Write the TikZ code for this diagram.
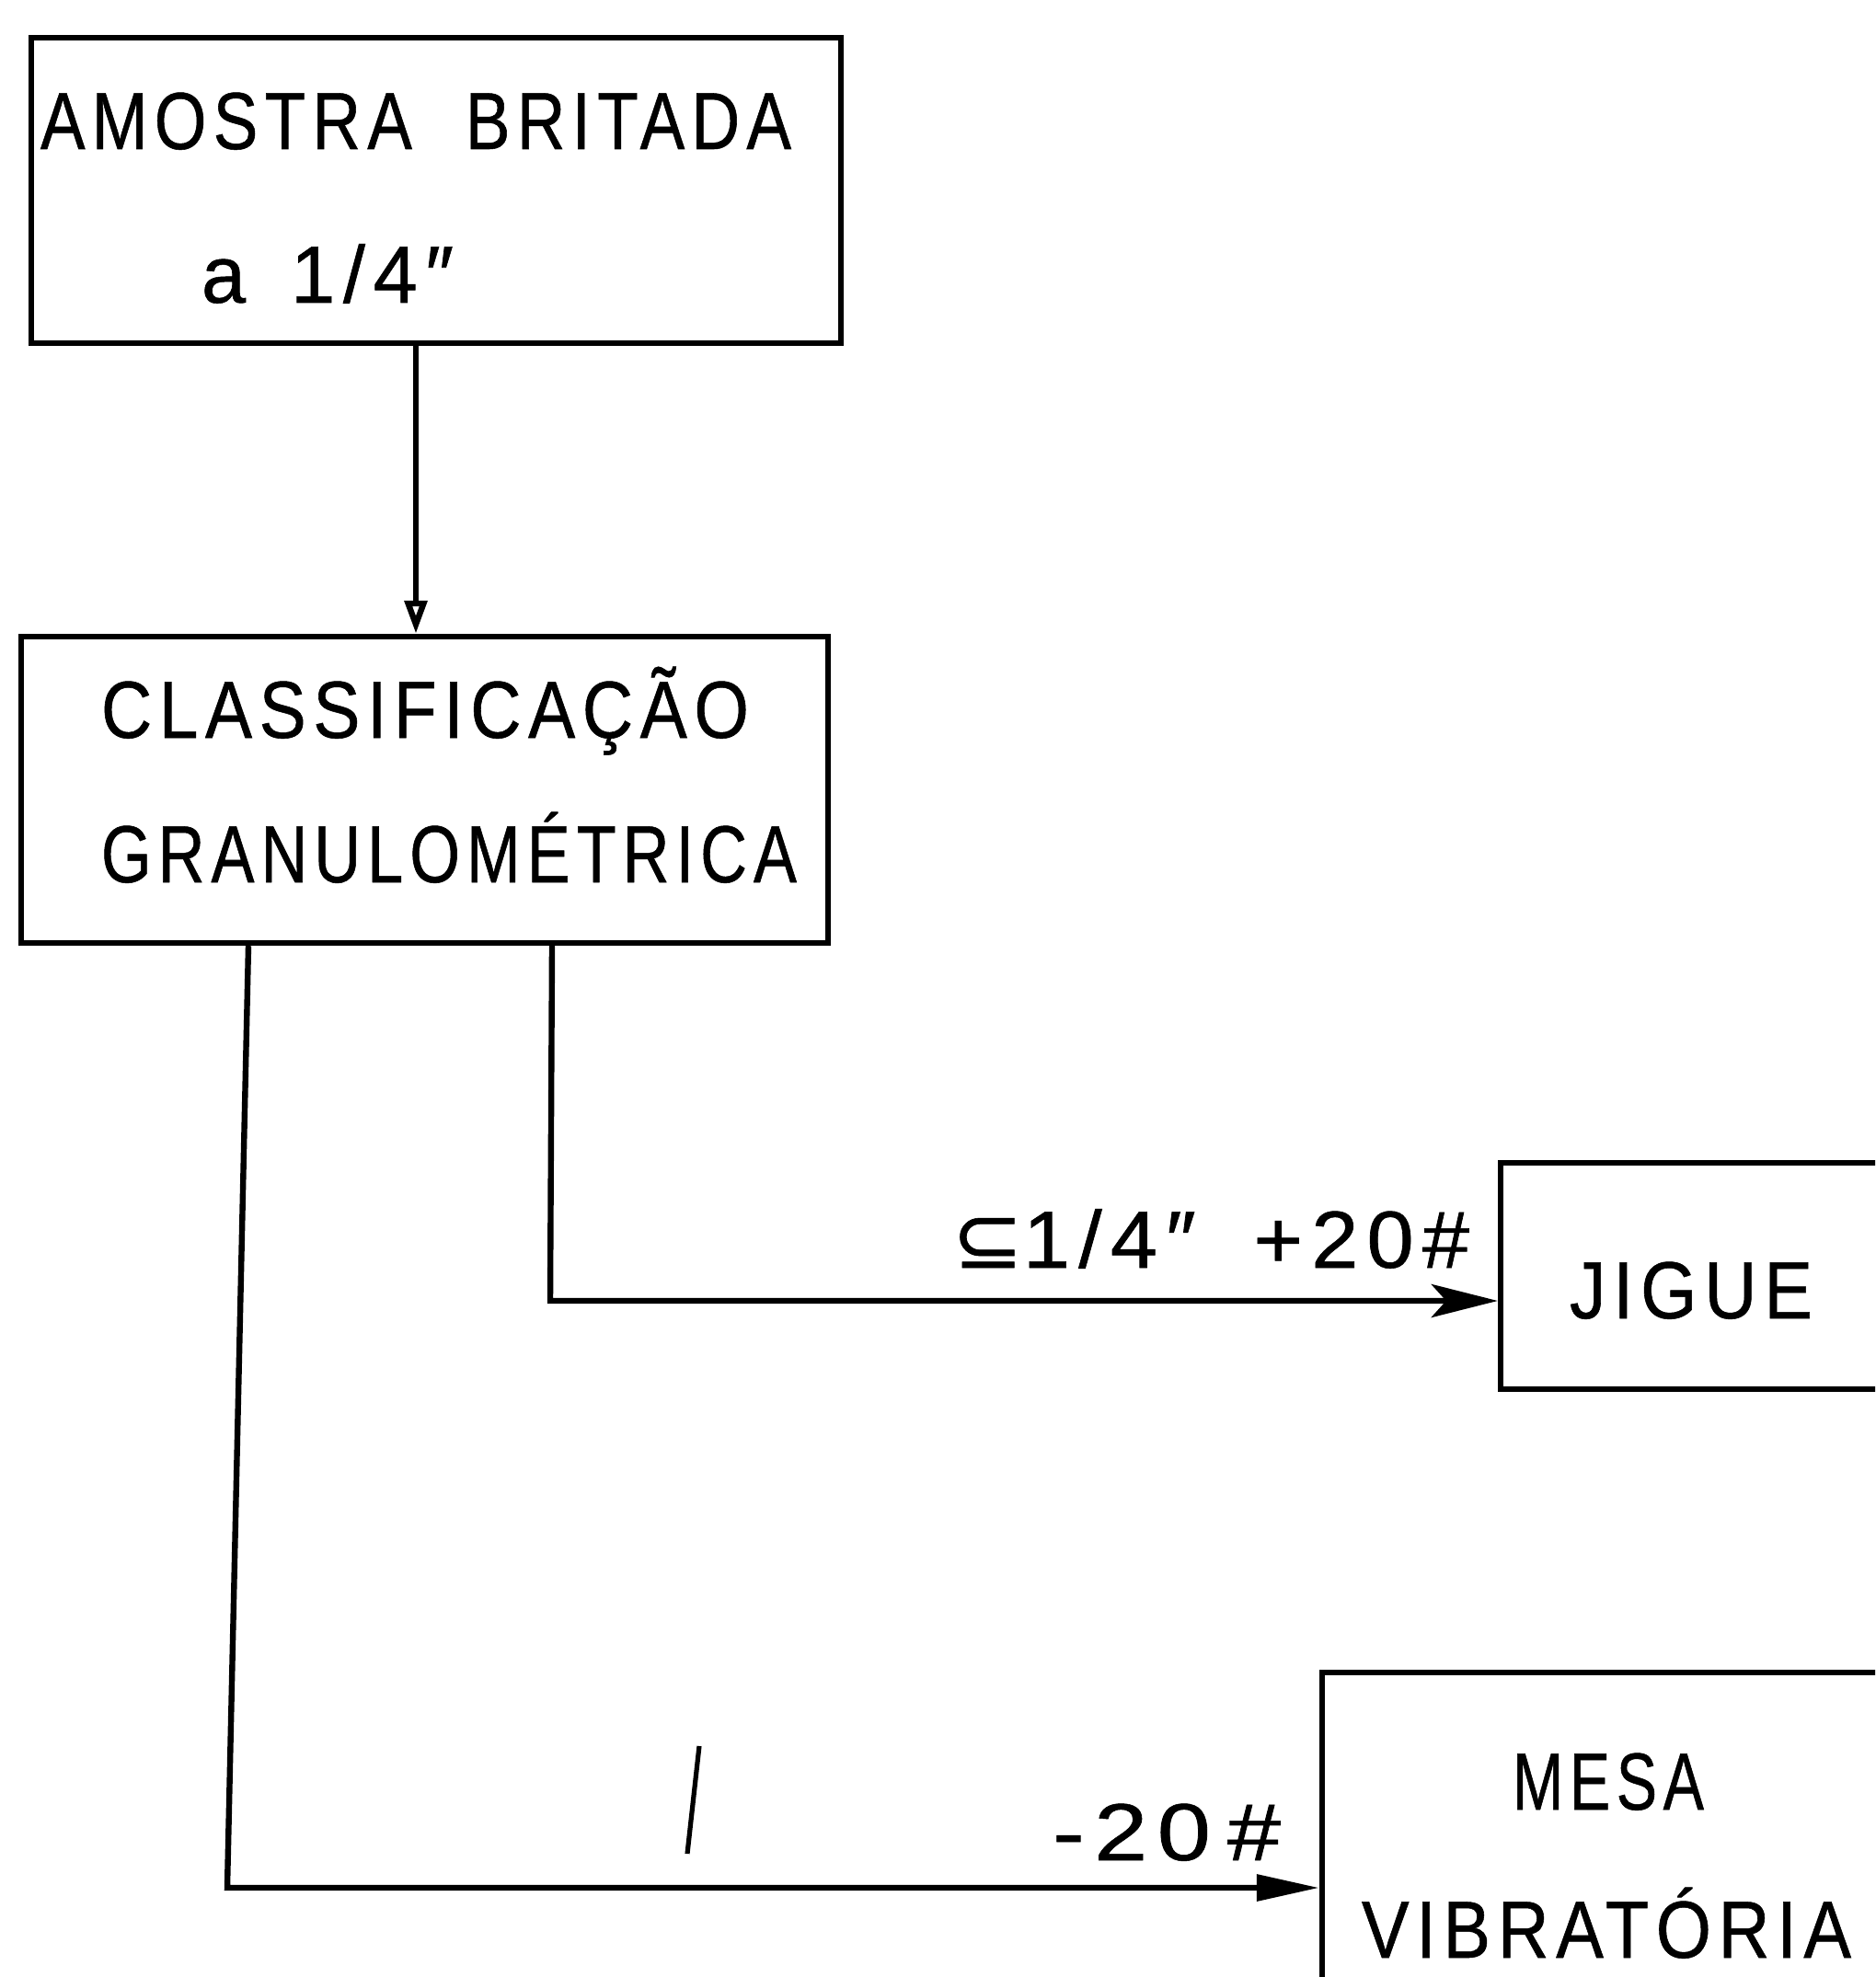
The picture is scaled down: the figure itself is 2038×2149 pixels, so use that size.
\documentclass[tikz,border=0pt]{standalone}
\usepackage{fontspec}
\setmainfont{Liberation Sans}[FakeStretch=0.8, LetterSpace=8, FakeBold=0.6]
\newfontfamily\dejavu{DejaVu Sans}[FakeStretch=0.8, FakeBold=0.6]
\usetikzlibrary{arrows.meta}
\newcommand\fw[2]{\resizebox{#1}{\height}{#2}}
\begin{document}
\begin{tikzpicture}[x=0.25pt,y=-0.25pt,
  box/.style={draw, line width=1.6pt, rectangle, inner sep=0pt},
  lab/.style={inner sep=0pt, anchor=base, font=\fontsize{22}{26}\selectfont},
  wire/.style={line width=1.6pt}]
\useasboundingbox (0,0) rectangle (2038,2149);
\clip (0,0) rectangle (2038,2149);
% boxes
\node[box, minimum width=220pt, minimum height=83pt] (box1) at (474,207) {};
\node[box, minimum width=219.25pt, minimum height=83.25pt] (box2) at (461.5,858.5) {};
\node[box, minimum width=112.25pt, minimum height=61.5pt] (jig) at (1855.5,1387) {};
\node[box, minimum width=160.75pt, minimum height=95.5pt] (mesa) at (1758.5,2009) {};
% texts
\node[lab] (t1) at (452,162) {\fw{204pt}{AMOSTRA\hspace{14pt}BRITADA}};
\node[lab] (t2) at (356,329) {\fw{68.5pt}{a\hspace{10pt}1/4″}};
\node[lab] (t3) at (462,802) {\fw{176pt}{CLASSIFICAÇÃO}};
\node[lab] (t4) at (488,959) {\fw{189pt}{GRANULOMÉTRICA}};
\node[lab] (t5) at (1838,1433) {\fw{66pt}{JIGUE}};
\node[lab] (t6) at (1748,1967) {\fw{52pt}{MESA}};
\node[lab] (t7) at (1746,2128) {\fw{133pt}{VIBRATÓRIA}};
\node[lab] (l1) at (1316,1378) {\fw{140.5pt}{{\dejavu ⊆}1/4″\hspace{12pt}+20\#}};
\node[lab] (l2) at (1268,2022) {\fw{62pt}{-20\hspace{3pt}\#}};
% connectors
\coordinate (c1) at (452,0);
\coordinate (c2) at (270,0);
\coordinate (b2) at (247,2052);
\coordinate (c3) at (600,0);
\coordinate (b3) at (598,1414);
\draw[wire,-{Triangle[open,length=9pt,width=6pt]}] (c1 |- box1.south) -- (c1 |- box2.north);
\draw[wire,-{Stealth[length=18pt,width=9pt,inset=4pt]}] (c3 |- box2.south) -- (b3) -- (b3 -| jig.west);
\draw[wire,-{Triangle[length=17pt,width=7pt]}] (c2 |- box2.south) -- (b2) -- (b2 -| mesa.west);
% stray mark
\coordinate (s1) at (760,1898);
\coordinate (s2) at (747,2015);
\draw[line width=1.3pt] (s1) -- (s2);
\end{tikzpicture}
\end{document}
